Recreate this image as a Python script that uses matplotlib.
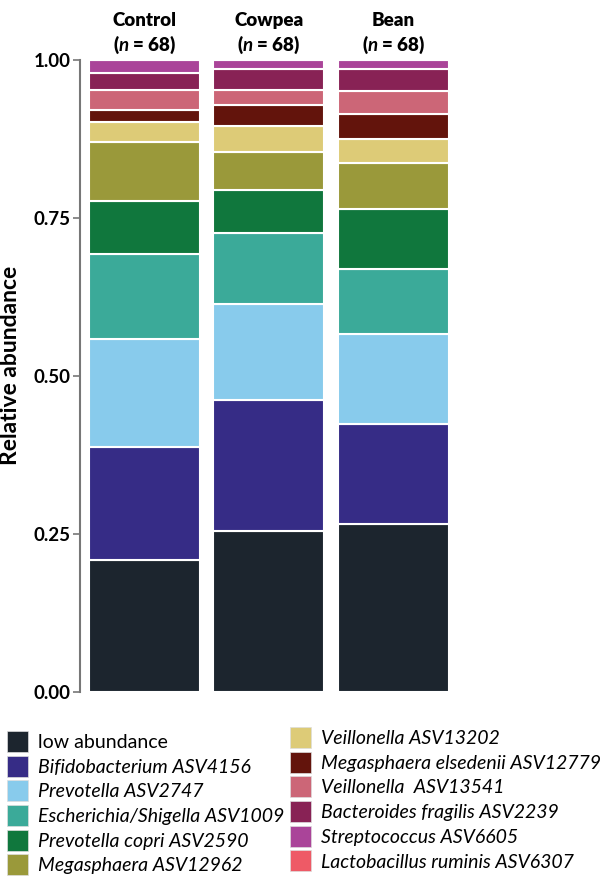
import matplotlib
matplotlib.use("Agg")
import matplotlib.pyplot as plt
import matplotlib.patches as mpatches
import numpy as np

plt.rcParams['font.family'] = ['Lato', 'DejaVu Sans']
plt.rcParams['mathtext.fontset'] = 'custom'
plt.rcParams['mathtext.rm'] = 'Lato:bold'
plt.rcParams['mathtext.bfit'] = 'Lato:italic:bold'

# groups (bottom to top stacking order follows taxa list)
groups = ['Control', 'Cowpea', 'Bean']
group_n = [68, 68, 68]

taxa = [
    'low abundance',
    'Bifidobacterium ASV4156',
    'Prevotella ASV2747',
    'Escherichia/Shigella ASV1009',
    'Prevotella copri ASV2590',
    'Megasphaera ASV12962',
    'Veillonella ASV13202',
    'Megasphaera elsedenii ASV12779',
    'Veillonella  ASV13541',
    'Bacteroides fragilis ASV2239',
    'Streptococcus ASV6605',
    'Lactobacillus ruminis ASV6307',
]

taxa_colors = [
    '#1C252E', '#362C86', '#88CBEC', '#3BAA99', '#10773D', '#9A993A',
    '#DDCB77', '#63140C', '#CC6677', '#882255', '#AA4499', '#EE5A66',
]

# relative abundance per taxon, one value per group (Control, Cowpea, Bean)
low_abundance = [0.209, 0.254, 0.265]
bifidobacterium = [0.178, 0.208, 0.159]
prevotella_2747 = [0.171, 0.151, 0.142]
escherichia = [0.135, 0.113, 0.103]
prevotella_copri = [0.084, 0.068, 0.095]
megasphaera_12962 = [0.093, 0.060, 0.073]
veillonella_13202 = [0.032, 0.042, 0.038]
megasphaera_els = [0.019, 0.033, 0.039]
veillonella_13541 = [0.031, 0.023, 0.037]
bacteroides = [0.027, 0.034, 0.035]
streptococcus = [0.021, 0.014, 0.014]
lactobacillus = [0.0, 0.0, 0.0]

values = [low_abundance, bifidobacterium, prevotella_2747, escherichia,
          prevotella_copri, megasphaera_12962, veillonella_13202,
          megasphaera_els, veillonella_13541, bacteroides, streptococcus,
          lactobacillus]

fig = plt.figure(figsize=(6.05, 8.76), dpi=100)
ax = fig.add_axes([0.1322, 0.2104, 0.6208, 0.7211])

x = np.arange(len(groups))
bottom = np.zeros(len(groups))
for vals, color in zip(values, taxa_colors):
    vals = np.array(vals)
    ax.bar(x, vals, bottom=bottom, width=0.89, color=color,
           edgecolor='white', linewidth=1.5)
    bottom += vals

ax.set_xlim(-0.517, 2.5)
ax.set_ylim(0, 1.0)
ax.set_yticks([0, 0.25, 0.5, 0.75, 1.0])
ax.set_yticklabels(['0.00', '0.25', '0.50', '0.75', '1.00'],
                   fontsize=13.5, fontweight='bold')
ax.set_xticks([])
for side in ['top', 'right', 'bottom']:
    ax.spines[side].set_visible(False)
ax.spines['left'].set_color('#777777')
ax.spines['left'].set_linewidth(1.5)
ax.tick_params(axis='y', color='#777777', width=1.2, length=5, pad=1.5)
ax.set_ylabel('Relative abundance', fontsize=16.5, fontweight='bold')
ax.yaxis.set_label_coords(-0.156, 0.517)

# column headers
for xi, name, n in zip(x, groups, group_n):
    ax.text(xi, 1.062, name, ha='center', va='center', fontsize=13.5,
            fontweight='heavy', transform=ax.get_xaxis_transform())
    ax.text(xi, 1.024, r'($\boldsymbol{n}$ = %d)' % n, ha='center',
            va='center', fontsize=13.5, fontweight='heavy',
            transform=ax.get_xaxis_transform())

# legend in two columns
handles = [mpatches.Patch(facecolor=c, edgecolor='#dddddd', linewidth=0.5)
           for c in taxa_colors]
legend_kw = dict(frameon=False, fontsize=14, handlelength=1.08,
                 handleheight=1.285, labelspacing=0.19, handletextpad=0.545,
                 borderaxespad=0, borderpad=0, loc='upper left')
leg1 = fig.legend(handles[:6], taxa[:6], bbox_to_anchor=(0.011, 0.1656),
                  **legend_kw)
leg2 = fig.legend(handles[6:], taxa[6:], bbox_to_anchor=(0.479, 0.1701),
                  **legend_kw)
for leg in (leg1, leg2):
    for t in leg.get_texts():
        if t.get_text() != 'low abundance':
            t.set_fontstyle('italic')

fig.savefig('out.png', dpi=100)
